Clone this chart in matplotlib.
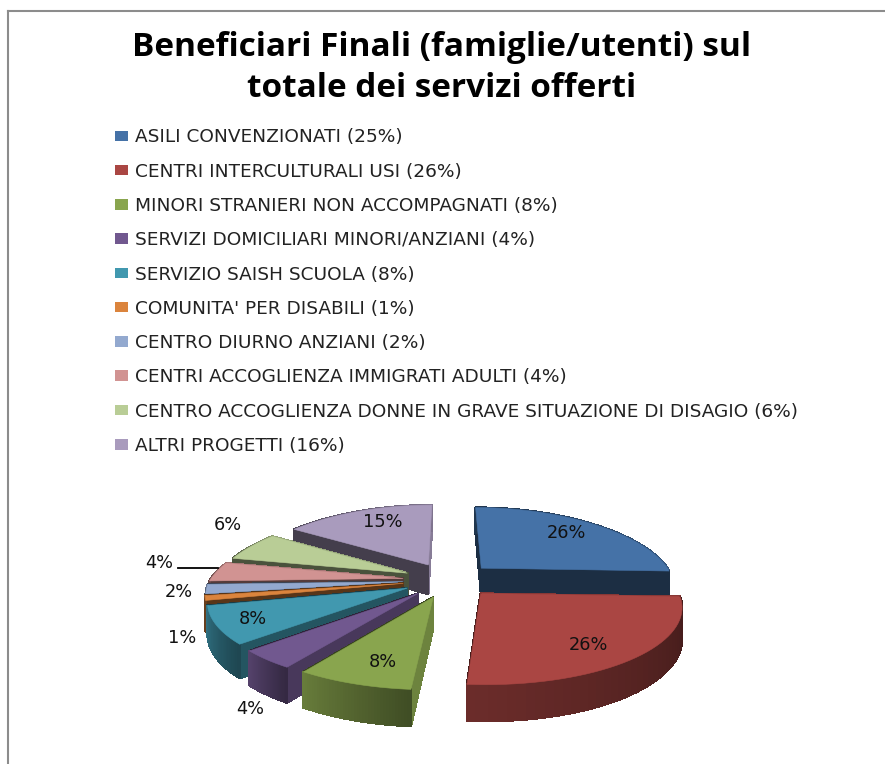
import numpy as np
import matplotlib
matplotlib.use('Agg')
import matplotlib.pyplot as plt
from matplotlib.patches import Polygon, Patch, Rectangle
from matplotlib.colors import to_rgb

plt.rcParams['font.family'] = ['DejaVu Sans']

# Data
title = 'Beneficiari Finali (famiglie/utenti) sul\ntotale dei servizi offerti'
legend_labels = [
    'ASILI CONVENZIONATI (25%)',
    'CENTRI INTERCULTURALI USI (26%)',
    'MINORI STRANIERI NON ACCOMPAGNATI (8%)',
    'SERVIZI DOMICILIARI MINORI/ANZIANI (4%)',
    'SERVIZIO SAISH SCUOLA (8%)',
    "COMUNITA' PER DISABILI (1%)",
    'CENTRO DIURNO ANZIANI (2%)',
    'CENTRI ACCOGLIENZA IMMIGRATI ADULTI (4%)',
    'CENTRO ACCOGLIENZA DONNE IN GRAVE SITUAZIONE DI DISAGIO (6%)',
    'ALTRI PROGETTI (16%)',
]
values = [25.5, 25.5, 8, 4, 8, 1, 2, 4, 6, 15.4]
pct_labels = ['26%', '26%', '8%', '4%', '8%', '1%', '2%', '4%', '6%', '15%']

# Styles
colors = ['#4572A7', '#AA4643', '#89A54E', '#71588F', '#4198AF',
          '#DB843D', '#93A9CF', '#D19392', '#B9CD96', '#A99BBD']
label_xy = [(566, 533), (588, 645), (383, 662), (250, 709), (253, 619),
            (182, 638), (179, 592), (159, 563), (228, 525), (383, 522)]

# Pie geometry in pixels
cx, cy = 449, 580
rx, ry = 193, 73
persp = 0.15
persp_back = 0.22
explode = 0.24
height = 30


def project(u, v, down=0):
    p = 1 / (1 + persp * v)
    px = 1 / (1 + persp_back * v) if v > 0 else p
    return cx + rx * u * px, cy - ry * v * p + down * p


def shade(color, f):
    return tuple(c * f for c in to_rgb(color))


def side_factor(normal):
    return min(0.8, max(0.4, 0.8 - (normal - 94) * 0.0055))


fig = plt.figure(figsize=(8.85, 7.64), dpi=100)
ax = fig.add_axes([0, 0, 1, 1])
ax.set_xlim(0, 885)
ax.set_ylim(764, 0)
ax.axis('off')

# Chart frame
ax.plot([8, 8], [764, 11], color='#8c8c8c', lw=1.5)
ax.plot([8, 885], [11, 11], color='#8c8c8c', lw=1.5)

ax.text(442, 68, title, ha='center', va='center', fontsize=24, fontweight='bold',
        family='Open Sans', color='black', linespacing=1.3)

handles = [Patch(facecolor=c, edgecolor='none') for c in colors]
ax.legend(handles, legend_labels, loc='upper left', bbox_to_anchor=(115 / 885, 1 - 128.5 / 764),
          frameon=False, fontsize=13.3, labelspacing=0.88, handlelength=0.7, handleheight=0.5,
          handletextpad=0.38, borderpad=0, borderaxespad=0, labelcolor='#222222')

# Slices, back to front
edges = np.cumsum([0] + values) / sum(values) * 2 * np.pi
mids = (edges[:-1] + edges[1:]) / 2
order = sorted(range(len(values)), key=lambda i: -np.cos(mids[i]))

for z, i in enumerate(order):
    t0, t1 = edges[i], edges[i + 1]
    ou, ov = explode * np.sin(mids[i]), explode * np.cos(mids[i])
    col = colors[i]
    theta = np.linspace(t0, t1, 40)
    us, vs = ou + np.sin(theta), ov + np.cos(theta)

    walls = []
    # radial walls
    for t, n in [(t0, t0 - np.pi / 2), (t1, t1 + np.pi / 2)]:
        u1, v1 = ou + np.sin(t), ov + np.cos(t)
        quad = [project(ou, ov), project(u1, v1), project(u1, v1, height), project(ou, ov, height)]
        f = side_factor(np.degrees(n) % 360)
        walls.append(((ov + v1) / 2 if np.cos(n) < 0 else 9, quad, f))
    # rim, darker towards the right
    left, right = (0.63, 0.38) if i == 1 else (0.75, 0.47)
    for k in range(len(theta) - 1):
        quad = [project(us[k], vs[k]), project(us[k + 1], vs[k + 1]),
                project(us[k + 1], vs[k + 1], height), project(us[k], vs[k], height)]
        f = right + (left - right) * k / (len(theta) - 2)
        walls.append(((vs[k] + vs[k + 1]) / 2, quad, f))

    for _, quad, f in sorted(walls, key=lambda w: -w[0]):
        c = shade(col, f)
        ax.add_patch(Polygon(quad, closed=True, facecolor=c, edgecolor=c, lw=1.0,
                             antialiased=False, zorder=3 + z))
    top = [project(ou, ov)] + [project(a, b) for a, b in zip(us, vs)]
    ax.add_patch(Polygon(top, closed=True, facecolor=col, edgecolor=col, lw=0.4, zorder=3 + z))

# Data labels
clip = Rectangle((0, 0), 885, 716, transform=ax.transData)
for (x, y), s in zip(label_xy, pct_labels):
    t = ax.text(x, y, s, ha='center', va='center', fontsize=12.8, color='#111111', zorder=30)
    t.set_clip_path(clip)
ax.plot([178, 218], [568, 568], color='black', lw=1.3, zorder=30)

fig.savefig('out.png', dpi=100)
